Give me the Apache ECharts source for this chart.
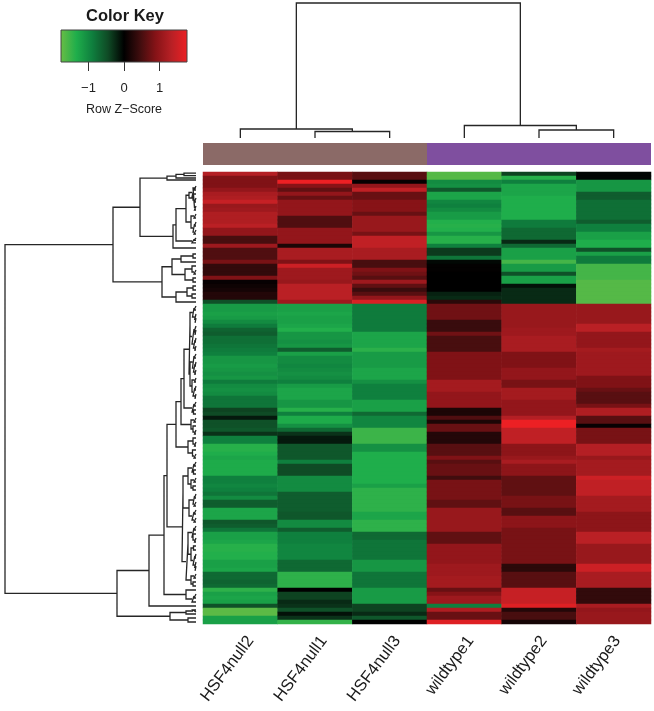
<!DOCTYPE html>
<html><head><meta charset="utf-8">
<style>html,body{margin:0;padding:0;background:#fff}#c{width:654px;height:711px;filter:blur(0.4px)}</style>
<script src="https://cdn.jsdelivr.net/npm/echarts@6/dist/echarts.min.js"></script>
</head><body><div id="c"></div>
<script>
const samples = ['HSF4null2','HSF4null1','HSF4null3','wildtype1','wildtype2','wildtype3'];
const groups = ['HSF4null','wildtype'];
const groupColors = ['#8b6a67','#7f4f9f'];
const keyTicks = [-1,0,1];
const keyRange = [-1.775,1.775];
const palette = ['#6abd45','#1fae4b','#0f7f3e','#0f4a25','#000000','#3f0d0e','#861317','#b82025','#ed2024'];

const HSF4null2 = [
1.3,.85,.85,.85,1.0,1.2,1.25,1.45,1.05,1.1,
1.25,1.25,1.25,1.35,1.0,1.0,.5,.5,1.1,.55,
.55,.55,.8,.35,.35,.35,.85,.05,.1,.15,
.25,.25,-.5,-1.15,-1.15,-1.2,-1.15,-1.0,-.85,-.65,
-.6,-.75,-.75,-.8,-.85,-.9,-1.1,-1.1,-1.15,-1.1,
-1.05,-1.1,-.85,-1.0,-1.05,-1.0,-.8,-.8,-.8,-.4,
-.45,-.15,-.5,-.5,-.55,-.3,-.9,-.9,-1.38,-1.38,
-1.32,-1.25,-1.3,-1.3,-1.3,-1.3,-.9,-.9,-.95,-.9,
-.8,-1.0,-.6,-.6,-1.25,-1.25,-1.25,-.55,-.6,-.8,
-1.2,-1.2,-1.25,-1.38,-1.38,-1.35,-1.35,-1.2,-1.2,-1.25,
-.7,-.7,-.65,-.7,-1.42,-1.2,-1.25,-1.2,-.5,-1.7,
-1.7,-1.2,-1.2];
const HSF4null1 = [
.8,.8,1.77,.9,.65,1.0,.7,1.0,1.0,1.0,
1.0,.55,.55,.55,1.0,1.0,1.0,1.0,.2,1.2,
1.2,1.2,.85,1.5,1.1,1.1,1.1,1.05,1.35,1.35,
1.35,1.35,1.1,-1.2,-1.2,-1.25,-1.2,-1.2,-1.25,-1.35,
-1.1,-1.1,-1.05,-1.1,-.6,-1.2,-1.0,-1.0,-.95,-1.0,
-1.05,-1.0,-.9,-1.15,-1.25,-1.25,-1.25,-1.1,-1.1,-1.38,
-.9,-1.3,-1.3,-1.05,-.7,-.3,-.15,-.15,-.55,-.55,
-.55,-.55,-.9,-.45,-.45,-.45,-1.0,-1.0,-1.0,-1.0,
-.6,-.6,-.6,-.6,-.6,-.55,-.55,-1.0,-1.0,-.6,
-.9,-.9,-.9,-.95,-.95,-.95,-.95,-.7,-.7,-.7,
-1.42,-1.42,-1.42,-1.42,0,-.4,-.4,-.25,-.3,-.5,
-.1,-.3,-1.45];
const HSF4null3 = [
.6,.6,.05,1.0,1.4,.7,.7,.9,.9,.9,
.7,1.05,1.05,1.05,1.05,.8,1.4,1.4,1.4,1.2,
1.2,1.2,.5,.5,.85,.75,.6,1.1,.65,.4,
.6,1.0,1.6,-.85,-.85,-.85,-.85,-.85,-.85,-.85,
-1.25,-1.25,-1.25,-1.25,-1.4,-1.15,-1.15,-1.15,-1.15,-1.25,
-1.25,-1.25,-1.05,-.9,-.9,-.9,-.9,-1.2,-1.2,-1.2,
-.7,-.95,-.95,-.95,-1.5,-1.5,-1.5,-1.5,-1.05,-1.05,
-1.33,-1.33,-1.33,-1.33,-1.33,-1.33,-1.33,-1.33,-1.2,-1.42,
-1.42,-1.42,-1.42,-1.42,-1.42,-1.25,-1.25,-1.42,-1.42,-1.42,
-.7,-.7,-.8,-.8,-.8,-.8,-.8,-1.1,-1.1,-1.1,
-.8,-.8,-.8,-.8,-1.15,-1.15,-1.15,-1.15,-.4,-.4,
-.25,-.55,0];
const wildtype1 = [
-1.65,-1.65,-1.0,-1.05,-.55,-1.25,-1.25,-.95,-.9,-1.0,
-1.15,-1.15,-1.35,-1.38,-1.35,-1.1,-1.38,-1.38,-.9,-.35,
-.35,-.8,-.05,.02,.02,0,0,0,0,0,
-.2,-.25,.3,.75,.75,.75,.75,.4,.4,.4,
.75,.5,.5,.5,.5,.85,.85,.85,.85,.85,
.85,.85,1.15,1.15,1.15,1.0,1.0,1.0,1.0,.2,
.2,.55,.2,.7,.7,.25,.25,.25,.6,.6,
.6,.85,.6,.7,.7,.7,.45,.8,.8,.8,
.8,.8,.65,.65,1.05,1.05,1.05,1.05,1.05,1.05,
.65,.65,.65,1.0,1.0,1.0,1.0,1.0,1.1,1.1,
1.1,1.15,1.15,1.15,.7,.9,1.1,1.1,-.9,1.25,
.7,.7,1.65];
const wildtype2 = [
-.4,-1.38,-.9,-1.25,-1.25,-1.25,-1.33,-1.33,-1.33,-1.33,
-1.33,-1.33,-.85,-.85,-.7,-.7,-.7,-.25,-.7,-1.2,
-1.2,-1.2,-1.55,-1.15,-1.15,-.5,-1.2,-1.2,-.1,-.25,
-.25,-.25,-.25,1.05,1.05,1.05,1.05,1.05,1.05,1.1,
1.1,1.2,1.2,1.2,1.2,.85,.85,.85,.85,1.0,
1.0,1.0,.8,.8,1.15,1.15,1.15,1.0,1.0,1.0,
1.0,1.3,1.77,1.77,1.4,1.4,1.4,1.4,.95,.95,
.95,1.05,1.2,.95,.95,.95,.65,.65,.65,.65,
.65,.8,.8,.8,.6,.6,.95,.95,.95,.8,
.8,.8,.8,.8,.8,.8,.8,.8,.3,.3,
.6,.6,.6,.6,1.45,1.45,1.45,1.45,1.65,.25,
.5,.5,.15];
const wildtype3 = [
-.03,-.03,-1.1,-1.1,-1.1,-.6,-.6,-.75,-.75,-.75,
-.75,-.75,-.6,-.9,-.9,-1.2,-1.2,-1.33,-1.33,-.5,
-1.2,-.85,-.85,-1.55,-1.55,-1.55,-1.55,-1.65,-1.65,-1.65,
-1.65,-1.65,-1.65,1.05,1.05,1.05,1.05,1.05,1.35,1.35,
1.0,1.0,1.0,1.0,1.15,1.1,1.1,1.1,1.1,1.1,
1.1,.85,.85,.85,.7,.6,.6,.6,.8,1.25,
1.25,.6,.6,.05,.8,.8,.8,.8,1.3,1.3,
1.3,1.05,1.15,1.15,1.15,1.15,1.5,1.4,1.4,1.4,
1.4,1.15,1.15,1.15,1.15,.95,.95,.95,.95,.95,
1.35,1.35,1.35,1.05,1.05,1.05,1.05,1.05,1.5,1.5,
1.2,1.2,1.2,1.2,.35,.35,.35,.35,1.2,1.0,
1.05,1.05,1.05];
const rowValues = [HSF4null2,HSF4null1,HSF4null3,wildtype1,wildtype2,wildtype3];

/* column dendrogram: [merge height, child, child], leaves are column indexes */
const colTree = [135,[9,0,[6.5,1,2]],[12.5,3,[8,4,5]]];

/* row dendrogram: [merge height, child, child], leaves are row positions */
const rowTop = [29,[20,[12,-.2,.4],1],1.5];
const rowMid = [23,[20,
  [10,[7,[4,[2,3,4],[3,5,[1.5,6,7]]],[3,[1.5,8,9],3.5]],[5,[2,10,11],[3,[1.5,12,13],[2,14,15]]]],
  [4,[2,16,16.6],17.2]],18.5];
const rowB = [34,
  [24,[15,[3,20,21],22],[11,[4,23,[2,24,25]],[3,26,27]]],
  [20,[9,[3,28,29],[4,30,31]],32]];
const rowP1 = [6,[3.5,[2,33,34],[1.5,35,[.8,36,37]]],[4,[2,38,[1,39,40]],[2.5,[1,41,42],[1.2,43,44]]]];
const rowP2 = [6,[3.5,[2,45,46],[2.5,[1,47,48],[1.3,49,50]]],[4,[1.5,51,52],[3,[1.2,53,54],[1,55,56]]]];
const rowP3 = [4,[2,57,58],[2.5,59,60]];
const rowP4 = [5,[2,61,62],[3,63,[1.5,64,65]]];
const rowP5 = [8,[3,66,[1.5,67,68]],[3.5,69,[2,70,71]]];
const rowM2a = [13,[8,[4,[2,72,73],[2.5,74,75]],[5,[2,76,77],[3,78,79]]],[7,[3,[1.5,80,81],[2,82,83]],[4,[2,84,85],[2,86,87]]]];
const rowM2b = [10,[8,[4,[2,88,89],[3,90,[1.5,91,92]]],[5,[2.5,93,94],[3,[1.2,95,96],[1.5,97,[.8,98,99]]]]],[5,[2,100,101],[3,102,103]]];
const rowN = [10,104,[4,[2,105,106],107]];
const rowLb = [26,[10,[3,109,109.5],110],[8,111,112]];
const rowTree = [191,
  [83,[56,rowTop,rowMid],rowB],
  [79,[47,[32,[29,[20,[15,[12,[7,rowP1,rowP2],rowP3],rowP4],rowP5],[14,rowM2a,rowM2b]],rowN],108],rowLb]];

function flatten(node, out){
  if(typeof node==='number') return {h:0,p:node+.5};
  const a=flatten(node[1],out), b=flatten(node[2],out), h=node[0];
  out.push([a.h,a.p],[h,a.p],[h,b.p],[b.h,b.p],[NaN,NaN]);
  return {h:h,p:(a.p+b.p)/2};
}
const rowPath=[]; flatten(rowTree,rowPath);
const colPathRaw=[]; flatten(colTree,colPathRaw);
const colPath=colPathRaw.map(d=>[d[1],d[0]]);

const cells=[];
rowValues.forEach((vals,c)=>vals.forEach((v,r)=>cells.push([c,r,v])));
const rowIdx=rowValues[0].map((_,i)=>String(i));
const lineCol='#262626';
const font='"Liberation Sans",Arial,sans-serif';

const chart=echarts.init(document.getElementById('c'),null,{renderer:'canvas'});
chart.setOption({
  animation:false,
  backgroundColor:'#fff',
  textStyle:{fontFamily:font},
  title:{text:'Color Key',left:120,top:3,textAlign:'center',
    textStyle:{fontSize:16.5,fontWeight:'bold',color:'#1a1a1a',fontFamily:font}},
  grid:[
    {left:203,top:172,width:448,height:452},
    {left:203,top:143,width:448,height:22},
    {left:203,top:3,width:448,height:135},
    {left:5,top:172,width:191,height:452},
    {left:61,top:30,width:126,height:32},
    {left:214,top:172,width:448,height:452}
  ],
  xAxis:[
    {gridIndex:0,type:'category',data:samples,show:false},
    {gridIndex:1,type:'category',data:groups,show:false},
    {gridIndex:2,type:'value',min:0,max:6,show:false},
    {gridIndex:3,type:'value',min:0,max:191,inverse:true,show:false},
    {gridIndex:4,type:'value',min:keyRange[0],max:keyRange[1],splitLine:{show:false},
     axisLine:{show:false},
     axisTick:{show:true,length:9,lineStyle:{color:'#333',width:1},customValues:keyTicks},
     axisLabel:{fontSize:13,color:'#222',margin:20,customValues:keyTicks,fontFamily:font,
       formatter:v=>String(v).replace('-','\u2212')},
     name:'Row Z\u2212Score',nameLocation:'middle',nameGap:41,
     nameTextStyle:{fontSize:12.5,color:'#222',fontFamily:font}},
    {gridIndex:5,type:'category',data:samples,axisLine:{show:false},axisTick:{show:false},
     axisLabel:{rotate:53,fontSize:16.5,color:'#1a1a1a',margin:14,interval:0,fontFamily:font}}
  ],
  yAxis:[
    {gridIndex:0,type:'category',data:rowIdx,inverse:true,show:false},
    {gridIndex:1,type:'value',min:0,max:1,show:false},
    {gridIndex:2,type:'value',min:0,max:135,show:false},
    {gridIndex:3,type:'value',min:0,max:113,inverse:true,show:false},
    {gridIndex:4,type:'value',min:0,max:1,show:false},
    {gridIndex:5,type:'value',min:0,max:1,show:false}
  ],
  visualMap:{show:false,seriesIndex:0,dimension:2,min:keyRange[0],max:keyRange[1],inRange:{color:palette}},
  series:[
    {type:'heatmap',xAxisIndex:0,yAxisIndex:0,data:cells,silent:true,itemStyle:{borderWidth:0}},
    {type:'bar',xAxisIndex:1,yAxisIndex:1,barWidth:'100%',silent:true,
     data:groupColors.map(c=>({value:1,itemStyle:{color:c}}))},
    {type:'line',xAxisIndex:2,yAxisIndex:2,data:colPath,showSymbol:false,symbol:'none',silent:true,clip:false,
     connectNulls:false,lineStyle:{color:lineCol,width:1.3,join:'miter'}},
    {type:'line',xAxisIndex:3,yAxisIndex:3,data:rowPath,showSymbol:false,symbol:'none',silent:true,clip:false,
     connectNulls:false,lineStyle:{color:lineCol,width:1.3,join:'miter'}},
    {type:'custom',xAxisIndex:4,yAxisIndex:4,silent:true,clip:false,data:[[keyRange[0],keyRange[1]]],
     encode:{x:[0,1]},
     renderItem:function(params,api){
       const a=api.coord([api.value(0),1]), b=api.coord([api.value(1),0]);
       const stops=palette.map((c,i)=>({offset:i/(palette.length-1),color:c}));
       return {type:'rect',shape:{x:a[0],y:a[1],width:b[0]-a[0],height:b[1]-a[1]},
         style:{fill:new echarts.graphic.LinearGradient(0,0,1,0,stops),stroke:'#444',lineWidth:1}};
     }},
    {type:'line',xAxisIndex:5,yAxisIndex:5,data:[],silent:true}
  ]
});
</script></body></html>
